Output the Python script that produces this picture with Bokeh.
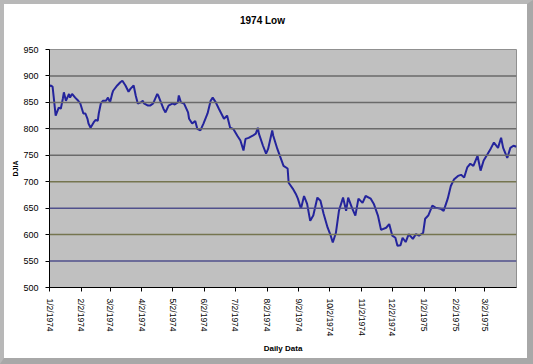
import pandas as pd
from math import pi
from bokeh.plotting import figure
from bokeh.models import FixedTicker, DatetimeTickFormatter, Span, LinearAxis, Range1d
from bokeh.embed import file_html
from bokeh.resources import INLINE

start_date = "1974-01-02"
day_offsets = [0, 1, 3, 4, 6, 9, 11, 13, 14, 16, 19, 20, 22, 25, 28, 30, 33, 35, 37, 38,
               40, 43, 45, 47, 48, 50, 52, 55, 57, 59, 61, 62, 66, 69, 71, 74, 77, 79, 82, 84,
               86, 89, 91, 92, 96, 98, 101, 105, 106, 108, 111, 113, 116, 120, 122, 125, 126, 128, 131, 135,
               136, 139, 142, 144, 147, 150, 154, 157, 159, 162, 165, 170, 173, 176, 179, 183, 186, 189, 191, 194,
               198, 201, 203, 204, 208, 211, 213, 217, 218, 222, 225, 228, 232, 233, 237, 240, 242, 245, 248, 251,
               254, 257, 261, 264, 267, 271, 274, 276, 279, 282, 286, 289, 291, 295, 298, 301, 305, 308, 313, 316,
               320, 323, 328, 331, 334, 337, 339, 342, 344, 347, 350, 354, 357, 360, 364, 366, 369, 373, 376, 381,
               384, 388, 391, 394, 398, 401, 404, 407, 410, 413, 417, 420, 423, 427, 430, 433, 437, 440, 442, 446,
               449, 452, 455]
djia_low = [880, 882, 880, 862, 825, 840, 838, 857, 869, 853, 866, 859, 866, 859, 853, 848, 829, 829, 819, 810,
            802, 812, 817, 815, 829, 848, 853, 853, 859, 850, 866, 872, 882, 888, 891, 882, 870, 876, 882, 863,
            848, 850, 853, 848, 844, 844, 848, 866, 863, 853, 838, 831, 844, 848, 846, 850, 863, 850, 848, 831,
            819, 810, 815, 800, 797, 810, 829, 853, 859, 850, 838, 819, 825, 802, 800, 787, 778, 759, 781, 783,
            787, 791, 802, 791, 768, 753, 762, 797, 787, 762, 746, 730, 725, 698, 687, 677, 668, 649, 673, 658,
            626, 636, 670, 664, 640, 613, 598, 585, 603, 645, 670, 645, 670, 649, 636, 668, 660, 673, 668, 658,
            636, 609, 613, 620, 598, 594, 579, 580, 594, 586, 601, 592, 601, 598, 603, 630, 636, 655, 651, 649,
            645, 668, 692, 704, 711, 713, 708, 727, 734, 730, 749, 721, 740, 753, 763, 774, 764, 783, 764, 745,
            764, 768, 766]
y_ticks = [500, 550, 600, 650, 700, 750, 800, 850, 900, 950]
tick_dates = ["1974-01-02", "1974-02-02", "1974-03-02", "1974-04-02", "1974-05-02", "1974-06-02",
              "1974-07-02", "1974-08-02", "1974-09-02", "1974-10-02", "1974-11-02", "1974-12-02",
              "1975-01-02", "1975-02-02", "1975-03-02"]
x_end = "1975-04-02"
chart_title = "1974 Low"

dates = pd.Timestamp(start_date) + pd.to_timedelta(day_offsets, unit="D")
tick_ms = [pd.Timestamp(d).value / 1e6 for d in tick_dates]
x0 = pd.Timestamp(start_date)
x1 = pd.Timestamp(x_end)

p = figure(width=533, height=364, x_axis_type="datetime",
           output_backend="svg", toolbar_location=None,
           x_range=Range1d(x0, x1),
           y_range=Range1d(500, 950),
           min_border_left=45, min_border_right=21, min_border_top=45, min_border_bottom=81)
p.styles = {"border-left": "4px solid #b8b8b8", "border-top": "4px solid #b8b8b8",
            "border-right": "6px solid #a8a8a8", "border-bottom": "6px solid #a8a8a8"}

p.background_fill_color = "#c0c0c0"
p.border_fill_color = "white"
p.outline_line_color = "#909090"
p.xgrid.grid_line_color = None
p.ygrid.grid_line_color = None

grid_colors = {550: "#50508c", 600: "#75754f", 650: "#50508c", 700: "#75754f",
               750: "#6a6a6a", 800: "#6a6a6a", 850: "#6a6a6a", 900: "#6a6a6a"}
for yv in y_ticks[1:-1]:
    p.add_layout(Span(location=yv, dimension="width", line_color=grid_colors[yv], line_width=1.5))

p.line(dates, djia_low, line_color="#24249c", line_width=2)

xa = p.below[0]
ya = p.left[0]
for ax in (xa, ya):
    ax.axis_line_color = "black"
    ax.major_tick_line_color = "black"
    ax.minor_tick_line_color = None
    ax.major_tick_in = 0
    ax.major_tick_out = 4
    ax.major_label_standoff = 7
    ax.major_label_text_font = "Liberation Sans"
    ax.major_label_text_color = "black"
    ax.axis_label_text_font = "Liberation Sans"
    ax.axis_label_text_font_style = "bold"
    ax.axis_label_text_color = "black"

ya.ticker = FixedTicker(ticks=y_ticks)
ya.major_label_text_font_size = "9px"
ya.axis_label = "DJIA"
ya.axis_label_text_font_size = "7px"
ya.axis_label_standoff = 1

xa.ticker = FixedTicker(ticks=tick_ms)
xa.formatter = DatetimeTickFormatter(days="%-m/%-d/%Y", months="%-m/%-d/%Y", years="%-m/%-d/%Y")
xa.major_label_orientation = -pi / 2
xa.major_label_text_font_size = "8.5px"
xa.axis_label = "Daily Data"
xa.axis_label_text_font_size = "8px"
xa.axis_label_standoff = 5

# chart title: drawn as the single label of a bare axis above the frame,
# centred over the whole chart area (slightly left of the frame centre)
title_pos = (x0 + (x1 - x0) / 2 - pd.Timedelta(days=20)).value / 1e6
title_axis = LinearAxis(ticker=FixedTicker(ticks=[title_pos]),
                        major_label_overrides={title_pos: chart_title})
title_axis.axis_line_color = None
title_axis.major_tick_line_color = None
title_axis.minor_tick_line_color = None
title_axis.major_tick_in = 0
title_axis.major_tick_out = 0
title_axis.major_label_standoff = 24
title_axis.major_label_text_font = "Liberation Sans"
title_axis.major_label_text_font_size = "10px"
title_axis.major_label_text_font_style = "bold"
title_axis.major_label_text_color = "black"
p.add_layout(title_axis, "above")

open("out.html", "w").write(file_html(p, INLINE))
